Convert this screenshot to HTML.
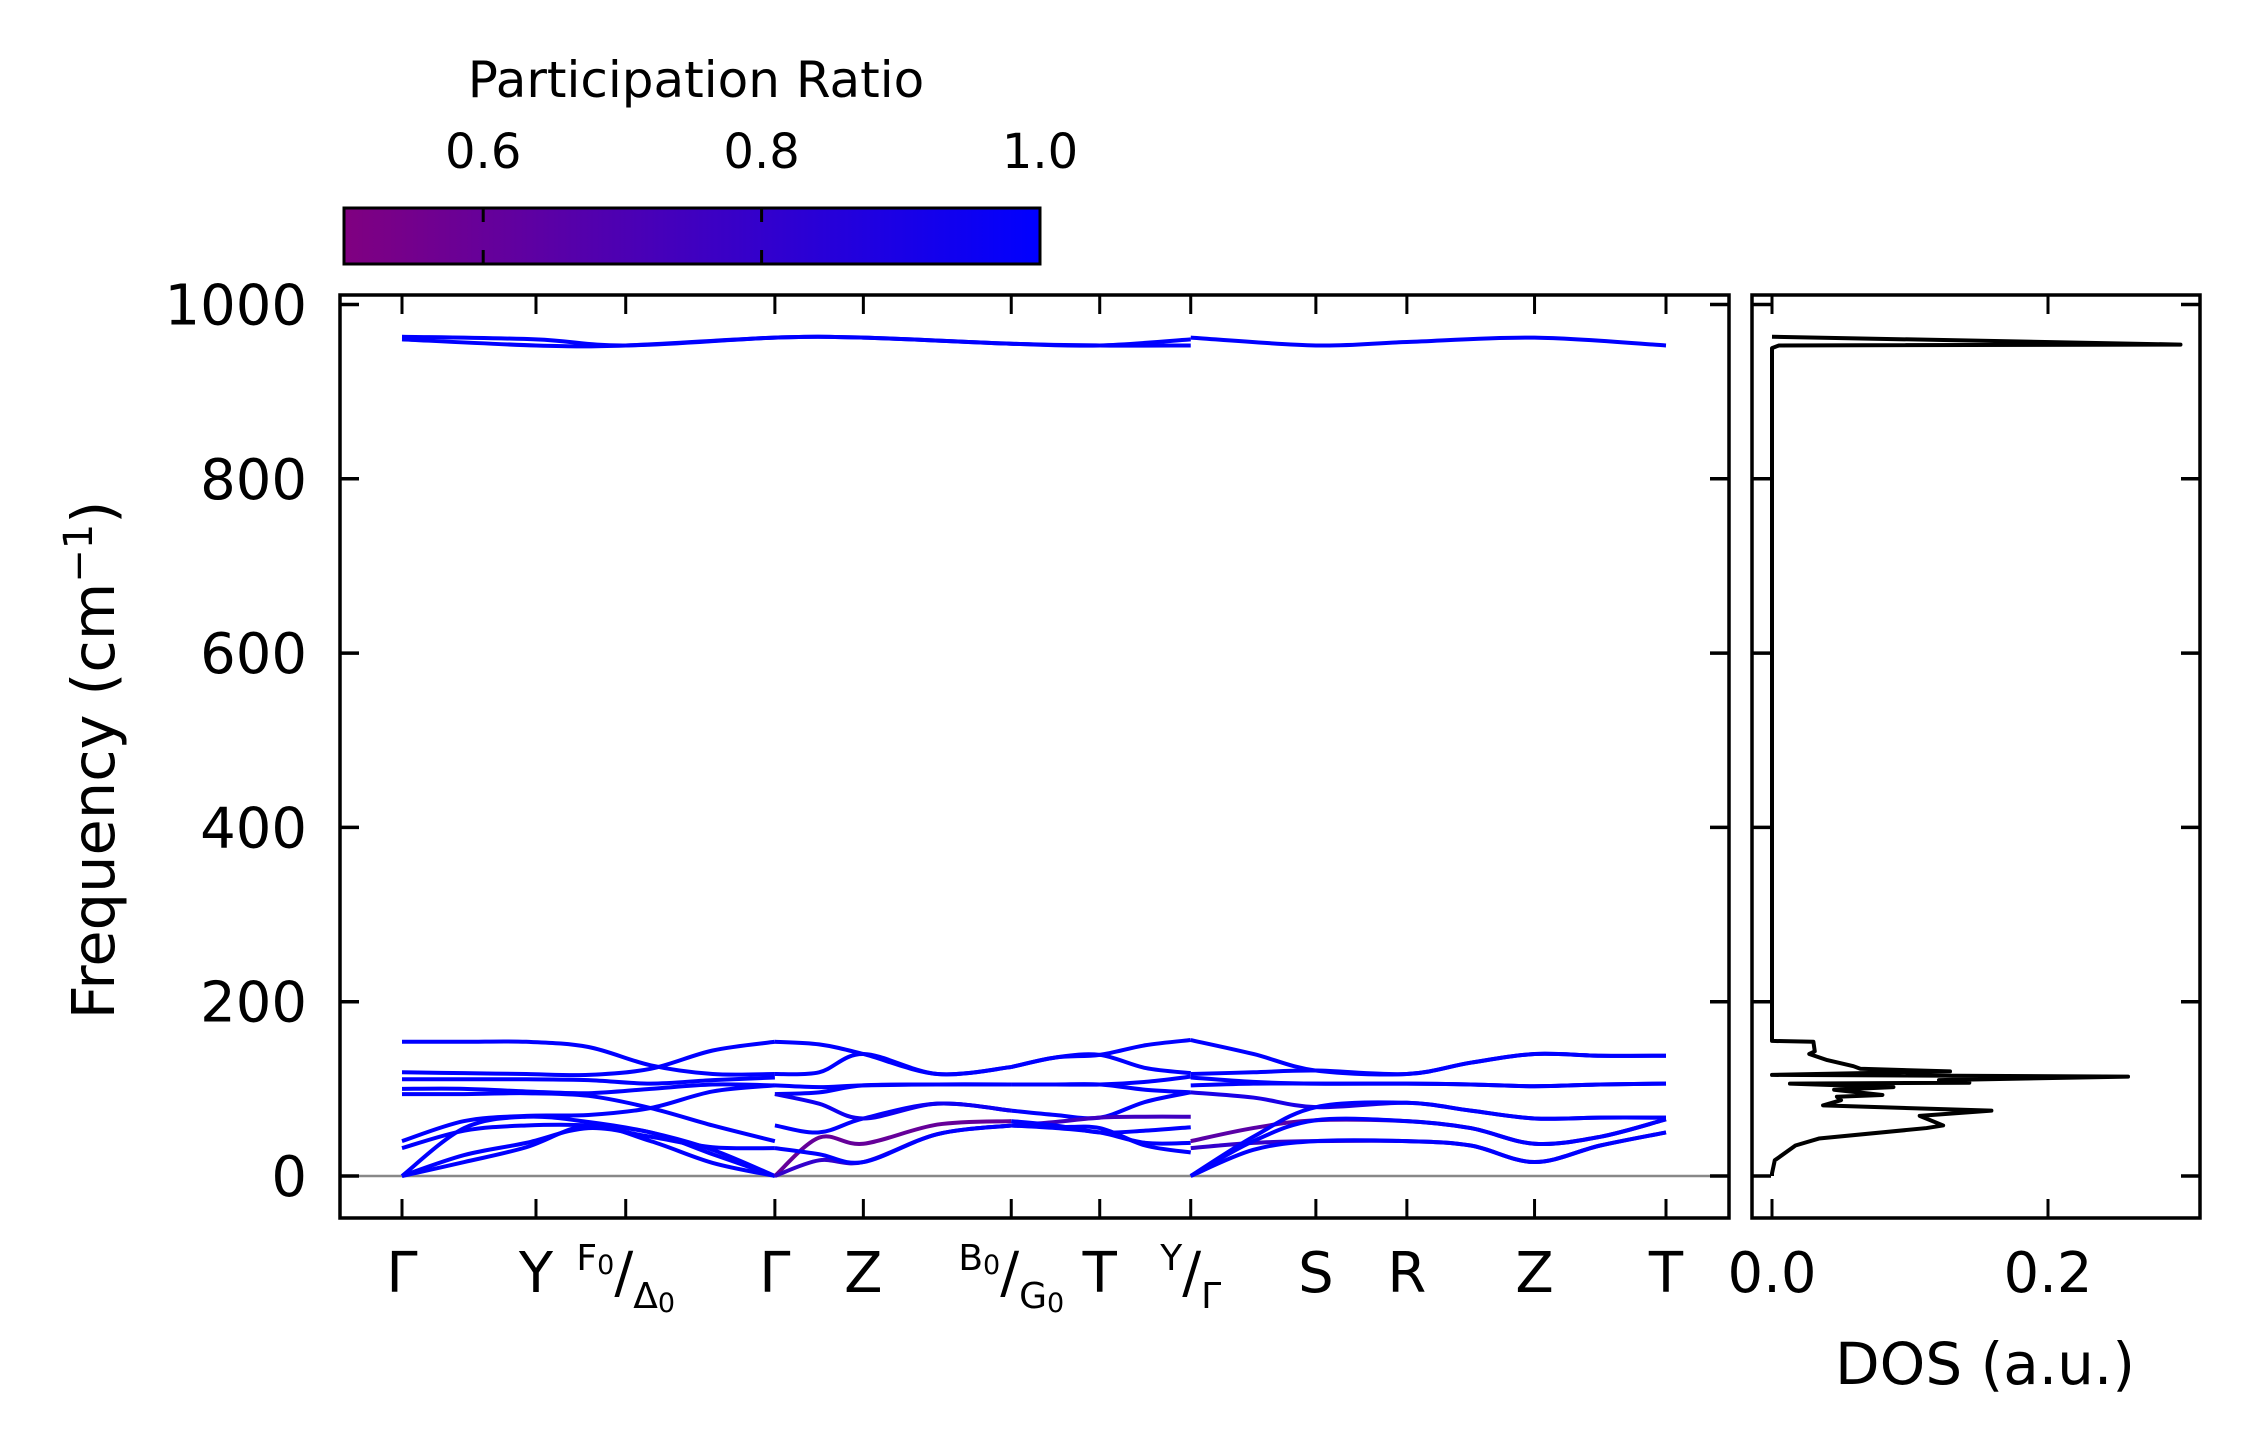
<!DOCTYPE html>
<html><head><meta charset="utf-8"><style>
html,body{margin:0;padding:0;background:#fff;}
svg{display:block;font-family:"DejaVu Sans","Liberation Sans",sans-serif;}
</style></head><body>
<svg id="fig" width="2259" height="1455" viewBox="0 0 2259 1455" xmlns="http://www.w3.org/2000/svg">
<defs><linearGradient id="cmap" x1="0" x2="1" y1="0" y2="0"><stop offset="0" stop-color="#800080"/><stop offset="1" stop-color="#0000ff"/></linearGradient></defs>
<rect width="2259" height="1455" fill="#fff"/>
<g>
<text x="696" y="97" font-size="50" text-anchor="middle">Participation Ratio</text>
<rect x="344" y="208" width="696" height="56" fill="url(#cmap)" stroke="#000" stroke-width="3"/>
<g id="cbticks"></g>
</g>
<g id="bandaxes"></g>
<g id="dosaxes"></g>
<text transform="translate(114,760) rotate(-90)" font-size="59" text-anchor="middle">Frequency (cm<tspan dy="-22" font-size="40">−1</tspan><tspan dy="22">)</tspan></text>
<text x="1985" y="1384" font-size="58" text-anchor="middle">DOS (a.u.)</text>
</svg>
<script>
// ---- data ----
const cbTicks=[0.6,0.8,1.0];
const yTicks=[0,200,400,600,800,1000];
const kTicks=[0,0.106,0.177,0.295,0.365,0.482,0.552,0.624,0.723,0.795,0.896,1.0];
const kLabels=["Γ","Y","F0|Δ0","Γ","Z","B0|G0","T","Y|Γ","S","R","Z","T"];
const kA=[0,0.0492,0.0983,0.1475,0.1967,0.2458,0.295];
const bandsA=[
[154,154,154,148,127,117,117],[119,118,117,116,123,144,154],[111,111,111,110,106,110,113],
[100,100,97,95,100,105,104],[94,94,95,92,78,58,40],[40,63,69,70,78,97,104],
[32,52,58,58,50,25,0],[0,55,68,62,50,30,0],[0,24,38,55,45,33,32],[0,16,33,58,40,15,0]];
const prA=[1,1,1,1,1,1,1,1,1,1];
const kB=[0.295,0.330,0.365,0.4235,0.482];
const bandsB=[[154,151,140,117,125],[117,119,140,117,125],[104,102,104,105,105],[94,96,104,105,105],
[58,50,66,83,75],[94,83,66,83,75],[0,44,37,59,63],[0,18,16,48,58],[32,25,16,48,58]];
const prB=[1,1,1,1,1,0.95,0.6,0.8,1];
const kC=[0.482,0.517,0.552,0.588,0.624];
const bandsC=[[125,136,139,150,156],[125,136,139,124,118],[105,105,105,108,114],[105,105,105,99,96],
[75,70,67,85,96],[58,62,67,68,68],[63,58,50,52,56],[58,55,50,38,38],[58,56,55,35,27]];
const prC=[1,1,1,1,1,0.75,1,1,1];
const kD=[0.624,0.6735,0.723,0.795,0.8455,0.896,0.948,1.0];
const bandsD=[[156,140,121,117,130,140,138,138],[117,119,121,117,130,140,138,138],
[113,108,106,106,105,103,105,106],[104,106,106,106,105,103,105,106],[96,90,79,84,75,66,67,67],
[40,55,64,63,55,37,45,65],[32,38,40,40,35,16,35,50],[0,40,64,63,55,37,45,65],
[0,30,40,40,35,16,35,50],[0,45,79,84,75,66,67,67]];
const prD=[1,1,1,1,0.9,0.65,0.8,1,1,1];
const kHigh1=[0,0.106,0.177,0.295,0.365,0.482,0.552,0.624];
const high1a=[963,960,953,962,962,955,953,960];
const high1b=[960,953,953,962,962,955,953,953];
const kHigh2=[0.624,0.723,0.795,0.896,1.0];
const high2a=[962,953,957,962,953];
const dosFreq=[963,954,953,950,155,154,143,140,133,126,123,120,116,114,110,107,106,102,99,93,91,87,81,75,69,58,55,43,35,18,3,0];
const dosVal=[0,0.296,0.005,0,0,0.030,0.031,0.027,0.040,0.059,0.064,0.129,0,0.258,0.121,0.143,0.013,0.088,0.045,0.080,0.047,0.050,0.037,0.159,0.107,0.124,0.112,0.034,0.017,0.002,0.0,0.0];
const dosTicks=[0.0,0.2];
// ---- scales ----
const NS="http://www.w3.org/2000/svg";
const AX={l:340,r:1729,t:295,b:1218};
const DX={l:1752,r:2200,t:295,b:1218};
function yF(f){return 1176-0.8715*f;}
function xK(k){return 402+k*1264;}
function xD(v){return 1772+v*1380;}
function cbX(v){return 344+(v-0.5)/0.5*696;}
function mk(tag,attrs,parent){const e=document.createElementNS(NS,tag);for(const a in attrs)e.setAttribute(a,attrs[a]);parent.appendChild(e);return e;}
function prColor(p){const t=(p-0.5)/0.5;const r=Math.round(128*(1-t)),b=Math.round(128+127*t);return "rgb("+r+",0,"+b+")";}
function smooth(pts){let d="M"+pts[0][0]+","+pts[0][1];for(let i=0;i<pts.length-1;i++){const p0=pts[Math.max(0,i-1)],p1=pts[i],p2=pts[i+1],p3=pts[Math.min(pts.length-1,i+2)];
const c1=[p1[0]+(p2[0]-p0[0])/6,p1[1]+(p2[1]-p0[1])/6],c2=[p2[0]-(p3[0]-p1[0])/6,p2[1]-(p3[1]-p1[1])/6];
d+=" C"+c1[0]+","+c1[1]+" "+c2[0]+","+c2[1]+" "+p2[0]+","+p2[1];}return d;}
// ---- colorbar ticks ----
const cbg=document.getElementById('cbticks');
cbTicks.forEach(v=>{
 if(v<1){const l=mk('line',{x1:cbX(v),x2:cbX(v),y1:208,y2:222,stroke:'#000','stroke-width':3},cbg);
 
 
 const l2=mk('line',{x1:cbX(v),x2:cbX(v),y1:250,y2:264,stroke:'#000','stroke-width':3},cbg);
 
 }
 const t=mk('text',{x:cbX(v),y:168,'font-size':48,'text-anchor':'middle'},cbg);t.textContent=v.toFixed(1);
 
 
});
// ---- band axes ----
const g=document.getElementById('bandaxes');
const zl=mk('line',{x1:AX.l,x2:AX.r,y1:yF(0),y2:yF(0),stroke:'#888','stroke-width':2.5},g);


function drawBands(ks,bands,prs,name){bands.forEach((b,i)=>{const pts=b.map((f,j)=>[xK(ks[j]),yF(f)]);
 const p=mk('path',{d:smooth(pts),fill:'none',stroke:prColor(prs[i]),'stroke-width':4},g);
 
 });}
drawBands(kA,bandsA,prA,'phonon-band');
drawBands(kB,bandsB,prB,'phonon-band');
drawBands(kC,bandsC,prC,'phonon-band');
drawBands(kD,bandsD,prD,'phonon-band');
drawBands(kHigh1,[high1a,high1b],[1,1],'high-band');
drawBands(kHigh2,[high2a],[1],'high-band');
const fr=mk('rect',{x:AX.l,y:AX.t,width:AX.r-AX.l,height:AX.b-AX.t,fill:'none',stroke:'#000','stroke-width':3.5},g);


yTicks.forEach(v=>{const y=yF(v);
 [[AX.l,AX.l+19],[AX.r-19,AX.r]].forEach(([a,b])=>{const l=mk('line',{x1:a,x2:b,y1:y,y2:y,stroke:'#000','stroke-width':3.5},g);
 
 });
 const t=mk('text',{x:307,y:y+20,'font-size':56,'text-anchor':'end'},g);t.textContent=v;
 
 });
function addPart(t,str,dy){
 const hasSub=str.endsWith('0');
 const a=mk('tspan',{'font-size':36,dy:dy},t);a.textContent=hasSub?str.slice(0,-1):str;
 if(hasSub){const b=mk('tspan',{'font-size':27,dy:4},t);b.textContent='0';return 4;}
 return 0;}
kTicks.forEach((k,i)=>{const x=xK(k);
 [[AX.b-19,AX.b],[AX.t,AX.t+19]].forEach(([a,b])=>{const l=mk('line',{x1:x,x2:x,y1:a,y2:b,stroke:'#000','stroke-width':3},g);
 
 });
 const lab=kLabels[i];const t=mk('text',{x:x,y:1292,'font-size':56,'text-anchor':'middle'},g);
 
 
 if(lab.includes('|')){const parts=lab.split('|');
  const off=addPart(t,parts[0],-22);
  const s2=mk('tspan',{'font-size':56,dy:22-off},t);s2.textContent='/';
  addPart(t,parts[1],16);
 } else t.textContent=lab;});
// ---- DOS axes ----
const dg=document.getElementById('dosaxes');
const dp=mk('path',{d:'M'+dosFreq.map((f,i)=>xD(dosVal[i])+","+yF(f)).join(' L'),fill:'none',stroke:'#000','stroke-width':4,'stroke-linejoin':'round'},dg);


const df=mk('rect',{x:DX.l,y:DX.t,width:DX.r-DX.l,height:DX.b-DX.t,fill:'none',stroke:'#000','stroke-width':3.5},dg);


yTicks.forEach(v=>{const y=yF(v);
 [[DX.l,DX.l+19],[DX.r-19,DX.r]].forEach(([a,b])=>{const l=mk('line',{x1:a,x2:b,y1:y,y2:y,stroke:'#000','stroke-width':3.5},dg);
 
 });});
dosTicks.forEach(v=>{const x=xD(v);
 [[DX.b-19,DX.b],[DX.t,DX.t+19]].forEach(([a,b])=>{const l=mk('line',{x1:x,x2:x,y1:a,y2:b,stroke:'#000','stroke-width':3},dg);
 
 });
 const t=mk('text',{x:x,y:1292,'font-size':56,'text-anchor':'middle'},dg);t.textContent=v.toFixed(1);
 
 });
</script>
</body></html>
